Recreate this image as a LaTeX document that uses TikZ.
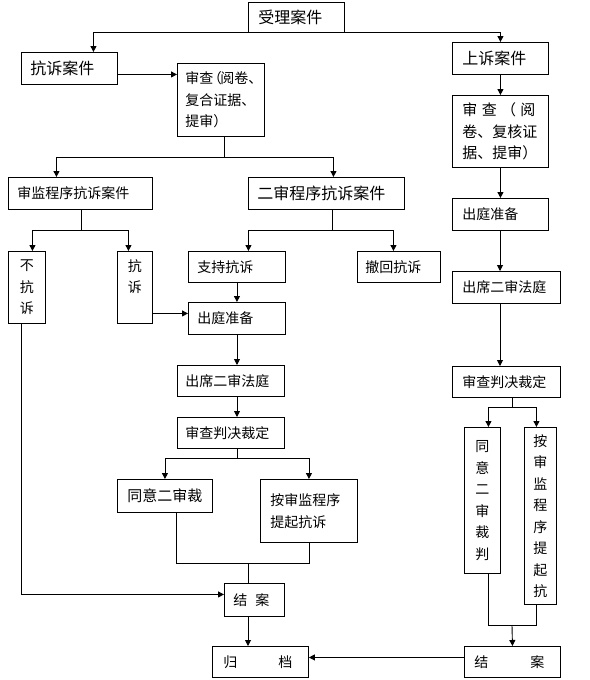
\documentclass[tikz,border=0pt]{standalone}
\usepackage{fontspec}
\setmainfont{Noto Sans CJK SC}
\usetikzlibrary{arrows.meta}
\newcommand{\fsz}[1]{\fontsize{#1}{21.5}\selectfont}
\begin{document}
\begin{tikzpicture}[x=1pt,y=-1pt,
  box/.style={draw, line width=0.9pt, anchor=north west, inner ysep=0pt, align=left},
  vbox/.style={draw, line width=0.9pt, anchor=north west, inner sep=0pt, align=center},
  conn/.style={line width=0.9pt},
  arr/.style={line width=0.9pt, -{Triangle[width=6pt,length=6pt]}}]
\fill[white] (0,0) rectangle (589,680);
\useasboundingbox (0,0) rectangle (589,680);
% boxes
\node[box, minimum width=96pt, minimum height=30pt, text width=76pt, inner xsep=10pt, font=\fsz{16}] (shouli) at (248,2) {受理案件};
\node[box, minimum width=96pt, minimum height=32pt, text width=78pt, inner xsep=9pt, font=\fsz{16}] (kangsu) at (21,52) {抗诉案件};
\node[box, minimum width=87pt, minimum height=73pt, text width=71pt, inner xsep=8pt, font=\fsz{14}] (shencha1) at (177,63) {审查\kern-0.4em（\kern-0.1em阅卷、\\复合证据、\\提审）};
\node[box, minimum width=96pt, minimum height=32pt, text width=76pt, inner xsep=10pt, font=\fsz{16}] (shangsu) at (452,42) {上诉案件};
\node[box, minimum width=96pt, minimum height=72pt, text width=76pt, inner xsep=10pt, font=\fsz{15}] (shencha2) at (452,95) {\makebox[73pt][s]{审\hfill 查\hfill （\hfill 阅}\\卷、复核证\\据、提审）};
\node[box, minimum width=144pt, minimum height=32pt, text width=126pt, inner xsep=9pt, font=\fsz{14}] (shenjian) at (8,177) {审监程序抗诉案件};
\node[box, minimum width=156pt, minimum height=32pt, text width=138pt, inner xsep=9pt, font=\fsz{16}] (ershen) at (248,177) {二审程序抗诉案件};
\node[vbox, minimum width=37pt, minimum height=72pt, text width=37pt, font=\fsz{14}] (bukangsu) at (8,251) {不\\抗\\诉};
\node[vbox, minimum width=35pt, minimum height=72pt, text width=35pt, font=\fsz{14}] (kangsu2) at (117,251) {抗\\诉\\\phantom{诉}};
\node[box, minimum width=97pt, minimum height=31pt, text width=79pt, inner xsep=9pt, font=\fsz{14}] (zhichi) at (188,251) {支持抗诉};
\node[box, minimum width=83pt, minimum height=31pt, text width=67pt, inner xsep=8pt, font=\fsz{14}] (chehui) at (357,251) {撤回抗诉};
\node[box, minimum width=97pt, minimum height=32pt, text width=79pt, inner xsep=9pt, font=\fsz{14}] (chuting1) at (188,302) {出庭准备};
\node[box, minimum width=107pt, minimum height=31pt, text width=91pt, inner xsep=8pt, font=\fsz{14}] (chuxi1) at (177,365) {出席二审法庭};
\node[box, minimum width=107pt, minimum height=31pt, text width=91pt, inner xsep=8pt, font=\fsz{14}] (shenchapj1) at (177,417) {审查判决裁定};
\node[box, minimum width=95pt, minimum height=33pt, text width=75pt, inner xsep=10pt, font=\fsz{15}] (tongyi1) at (117,479) {同意二审裁};
\node[box, minimum width=97pt, minimum height=63pt, text width=77pt, inner xsep=10pt, font=\fsz{14}] (anshen1) at (260,479) {按审监程序\\提起抗诉\\[6pt]};
\node[box, minimum width=60pt, minimum height=33pt, text width=42pt, inner xsep=9pt, font=\fsz{14}] (jiean1) at (224,583) {结\hspace{8pt}案};
\node[box, minimum width=96pt, minimum height=31pt, text width=74pt, inner xsep=11pt, font=\fsz{14}] (guidang) at (212,646) {归\hspace{41pt}档};
\node[box, minimum width=96pt, minimum height=32pt, text width=76pt, inner xsep=10pt, font=\fsz{14}] (chuting2) at (452,198) {出庭准备};
\node[box, minimum width=108pt, minimum height=32pt, text width=88pt, inner xsep=10pt, font=\fsz{14}] (chuxi2) at (452,271) {出席二审法庭};
\node[box, minimum width=108pt, minimum height=31pt, text width=88pt, inner xsep=10pt, font=\fsz{14}] (shenchapj2) at (452,366) {审查判决裁定};
\node[vbox, minimum width=36pt, minimum height=146pt, text width=36pt, font=\fsz{14}] (tongyi2) at (464,427) {同\\意\\二\\审\\裁\\判\\[8pt]};
\node[vbox, minimum width=32pt, minimum height=177pt, text width=32pt, font=\fsz{14}] (anshen2) at (524,427) {按\\审\\监\\程\\序\\提\\起\\抗};
\node[box, minimum width=96pt, minimum height=31pt, text width=76pt, inner xsep=10pt, font=\fsz{14}] (jiean2) at (464,646) {结\hspace{42pt}案};
% connectors
\draw[arr] (shouli.south) -| ([xshift=24pt]kangsu.north);
\draw[arr] (shouli.south) -| (shangsu.north);
\coordinate (k1) at ([yshift=-6pt]kangsu.east);
\draw[arr] (k1) -- (k1 -| shencha1.west);
\coordinate (j1) at (224,157);
\draw[conn] (shencha1.south -| j1) -- (j1);
\draw[arr] (j1) -| ([xshift=-24pt]shenjian.north);
\draw[arr] (j1) -| ([xshift=7pt]ershen.north);
\coordinate (j2) at (81,230);
\draw[conn] (shenjian.south -| j2) -- (j2);
\draw[arr] (j2) -| ([xshift=5.5pt]bukangsu.north);
\draw[arr] (j2) -| ([xshift=-6.5pt]kangsu2.north);
\coordinate (j3) at (332,230);
\draw[conn] (ershen.south -| j3) -- (j3);
\draw[arr] (j3) -| ([xshift=11.5pt]zhichi.north);
\draw[arr] (j3) -| ([xshift=-5.5pt]chehui.north);
\draw[arr] (zhichi.south) -- (chuting1.north);
\coordinate (k2) at ([yshift=-26pt]kangsu2.east);
\draw[arr] (k2) -- (k2 -| chuting1.west);
\coordinate (v1) at (237,0);
\draw[arr] (chuting1.south -| v1) -- (v1 |- chuxi1.north);
\draw[arr] (chuxi1.south -| v1) -- (v1 |- shenchapj1.north);
\coordinate (j4) at (237,458);
\draw[conn] (shenchapj1.south -| j4) -- (j4);
\draw[arr] (j4) -| (tongyi1.north);
\draw[arr] (j4) -| (anshen1.north);
\coordinate (j5) at (248,563);
\draw[conn] ([xshift=11.5pt]tongyi1.south) |- (j5);
\draw[conn] (anshen1.south) |- (j5);
\draw[conn] (j5) -- (j5 |- jiean1.north);
\draw[arr] ([xshift=-5.5pt]bukangsu.south) |- ([yshift=5.5pt]jiean1.west);
\draw[arr] (jiean1.south -| j5) -- (j5 |- guidang.north);
\coordinate (v2) at (500,0);
\draw[arr] (shangsu.south) -- (shencha2.north);
\draw[arr] (shencha2.south) -- (chuting2.north);
\draw[arr] (chuting2.south -| v2) -- (v2 |- chuxi2.north);
\draw[arr] (chuxi2.south -| v2) -- (v2 |- shenchapj2.north);
\coordinate (j6) at (512,407);
\draw[conn] (shenchapj2.south -| j6) -- (j6);
\draw[arr] (j6) -| ([xshift=6pt]tongyi2.north);
\draw[arr] (j6) -| ([xshift=-4pt]anshen2.north);
\coordinate (j7) at (512,625);
\draw[conn] ([xshift=6pt]tongyi2.south) |- (j7);
\draw[conn] ([xshift=-4pt]anshen2.south) |- (j7);
\draw[arr] (j7) -- (jiean2.north);
\coordinate (k3) at ([yshift=4.5pt]jiean2.west);
\draw[arr] (k3) -- (k3 -| guidang.east);
\end{tikzpicture}
\end{document}
